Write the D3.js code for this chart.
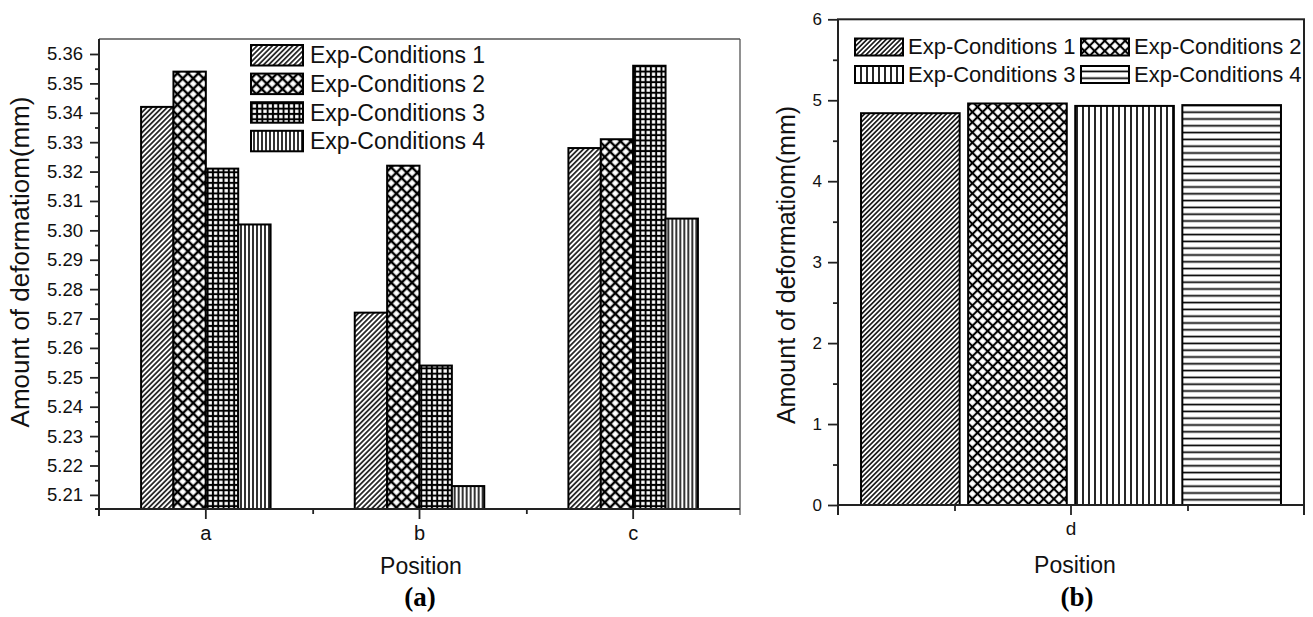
<!DOCTYPE html>
<html>
<head>
<meta charset="utf-8">
<script src="https://cdn.jsdelivr.net/npm/d3@7"></script>
<style>
  body { margin: 0; background: #fff; }
  svg { display: block; font-family: 'Liberation Sans', Arial, sans-serif; }
</style>
</head>
<body>
<svg id="chart" width="1313" height="617"></svg>
<script>
const conditions = ['Exp-Conditions 1', 'Exp-Conditions 2', 'Exp-Conditions 3', 'Exp-Conditions 4'];

// panel (a)
const positionsA = ['a', 'b', 'c'];
const cond1A = [5.342, 5.272, 5.328];
const cond2A = [5.354, 5.322, 5.331];
const cond3A = [5.321, 5.254, 5.356];
const cond4A = [5.302, 5.213, 5.304];
const yTicksA = [5.21, 5.22, 5.23, 5.24, 5.25, 5.26, 5.27, 5.28, 5.29, 5.30, 5.31, 5.32, 5.33, 5.34, 5.35, 5.36];

// panel (b)
const positionsB = ['d'];
const valuesB = [4.84, 4.96, 4.93, 4.94];
const yTicksB = [0, 1, 2, 3, 4, 5, 6];

const svg = d3.select('#chart');
const defs = svg.append('defs');

// hatch patterns, lines drawn in a tile then rotated
function hatch(id, size, width, angle, dirs) {
  const p = defs.append('pattern')
    .attr('id', id)
    .attr('patternUnits', 'userSpaceOnUse')
    .attr('width', size)
    .attr('height', size)
    .attr('patternTransform', `rotate(${angle})`);
  p.append('rect').attr('width', size).attr('height', size).attr('fill', '#fff');
  if (dirs.includes('v')) {
    p.append('line')
      .attr('x1', size / 2).attr('x2', size / 2)
      .attr('y1', -1).attr('y2', size + 1)
      .attr('stroke', '#000').attr('stroke-width', width);
  }
  if (dirs.includes('h')) {
    p.append('line')
      .attr('y1', size / 2).attr('y2', size / 2)
      .attr('x1', -1).attr('x2', size + 1)
      .attr('stroke', '#000').attr('stroke-width', width);
  }
}

hatch('a1', 3.6, 1.5, 45, 'v');
hatch('a2', 7.4, 2.4, 45, 'vh');
hatch('a3', 5.3, 2, 0, 'vh');
hatch('a4', 4, 1.6, 0, 'v');
hatch('b1', 3.4, 1.5, 45, 'v');
hatch('b2', 7.2, 2.1, 45, 'vh');
hatch('b3', 6, 1.7, 0, 'v');
hatch('b4', 6.8, 1.7, 0, 'h');

const fillsA = ['url(#a1)', 'url(#a2)', 'url(#a3)', 'url(#a4)'];
const fillsB = ['url(#b1)', 'url(#b2)', 'url(#b3)', 'url(#b4)'];

// ---------- panel (a) ----------
const leftA = 99, rightA = 740, topA = 39, bottomA = 509;

const xA = d3.scaleBand().domain(positionsA).range([leftA, rightA]).paddingInner(0).paddingOuter(0);
const xInnerA = d3.scaleBand().domain(conditions).range([0, xA.bandwidth()]).paddingInner(0).paddingOuter(1.3);
const yA = d3.scaleLinear().domain([5.2052, 5.3651]).range([bottomA, topA]);

const seriesA = [cond1A, cond2A, cond3A, cond4A];
const rowsA = positionsA.map((p, i) => ({ pos: p, vals: seriesA.map((s) => s[i]) }));

const gA = svg.append('g');

gA.selectAll('g.grp')
  .data(rowsA)
  .join('g')
  .attr('class', 'grp')
  .attr('transform', (d) => `translate(${xA(d.pos)},0)`)
  .selectAll('rect')
  .data((d) => d.vals.map((v, k) => ({ v, k })))
  .join('rect')
  .attr('x', (d) => xInnerA(conditions[d.k]))
  .attr('width', xInnerA.bandwidth())
  .attr('y', (d) => yA(d.v))
  .attr('height', (d) => bottomA - yA(d.v))
  .attr('fill', (d) => fillsA[d.k])
  .attr('stroke', '#000')
  .attr('stroke-width', 2);

// frame
gA.append('line').attr('x1', leftA).attr('x2', rightA).attr('y1', topA).attr('y2', topA)
  .attr('stroke', '#555').attr('stroke-width', 1.3);
gA.append('line').attr('x1', rightA).attr('x2', rightA).attr('y1', topA).attr('y2', bottomA + 6)
  .attr('stroke', '#555').attr('stroke-width', 1.3);

// y axis
const yAxisA = gA.append('g')
  .attr('transform', `translate(${leftA},0)`)
  .call(d3.axisLeft(yA).tickValues(yTicksA).tickFormat(d3.format('.2f')).tickSize(9).tickPadding(7));
gA.append('g')
  .attr('transform', `translate(${leftA},0)`)
  .call(d3.axisLeft(yA).tickValues(yTicksA.map((d) => d + 0.005).filter((d) => d < 5.36)).tickFormat('').tickSize(4));

// x axis
const xAxisA = gA.append('g')
  .attr('transform', `translate(0,${bottomA})`)
  .call(d3.axisBottom(xA).tickSize(10).tickPadding(7));
gA.append('g')
  .attr('transform', `translate(0,${bottomA})`)
  .call(d3.axisBottom(d3.scaleLinear().domain([0, 3]).range([leftA, rightA])).tickValues([1, 2]).tickFormat('').tickSize(5));

gA.selectAll('.domain').remove();
gA.append('line').attr('x1', leftA).attr('x2', leftA).attr('y1', topA).attr('y2', bottomA + 7)
  .attr('stroke', '#222').attr('stroke-width', 2);
gA.append('line').attr('x1', leftA - 4).attr('x2', rightA).attr('y1', bottomA).attr('y2', bottomA)
  .attr('stroke', '#222').attr('stroke-width', 2);

gA.selectAll('.tick line').attr('stroke', '#222').attr('stroke-width', 1.8);
gA.selectAll('.tick text').attr('fill', '#111');
yAxisA.attr('font-family', null).attr('font-size', 18.5);
xAxisA.attr('font-family', null);
xAxisA.selectAll('.tick text').attr('font-size', 20);

// legend (a)
const legA = gA.append('g');
conditions.forEach((c, i) => {
  const y0 = 45 + 28.6 * i;
  legA.append('rect').attr('x', 251).attr('y', y0).attr('width', 52).attr('height', 20.5)
    .attr('fill', fillsA[i]).attr('stroke', '#000').attr('stroke-width', 2);
  legA.append('text').attr('x', 310).attr('y', y0 + 18.3).attr('font-size', 23).attr('fill', '#111').text(c);
});

// titles (a)
gA.append('text')
  .attr('transform', 'translate(29,262) rotate(-90)')
  .attr('text-anchor', 'middle').attr('font-size', 26).attr('fill', '#111')
  .text('Amount of deformatiom(mm)');
gA.append('text').attr('x', 421).attr('y', 574).attr('text-anchor', 'middle')
  .attr('font-size', 23).attr('fill', '#111').text('Position');
gA.append('text').attr('x', 420).attr('y', 606).attr('text-anchor', 'middle')
  .attr('font-size', 27).attr('font-weight', 'bold').attr('font-family', 'Liberation Serif, Times New Roman, serif')
  .text('(a)');

// ---------- panel (b) ----------
const leftB = 838, rightB = 1304, topB = 19.3, bottomB = 505;

const xB = d3.scaleBand().domain(positionsB).range([leftB, rightB]);
const xInnerB = d3.scaleBand().domain(conditions).range([leftB, rightB]).paddingInner(0.079).paddingOuter(0.215);
const yB = d3.scaleLinear().domain([0, 6]).range([bottomB, topB]);

const gB = svg.append('g');

gB.selectAll('rect.bar')
  .data(valuesB)
  .join('rect')
  .attr('class', 'bar')
  .attr('x', (d, i) => xInnerB(conditions[i]))
  .attr('width', xInnerB.bandwidth())
  .attr('y', (d) => yB(d))
  .attr('height', (d) => bottomB - yB(d))
  .attr('fill', (d, i) => fillsB[i])
  .attr('stroke', '#000')
  .attr('stroke-width', 2);

const yAxisB = gB.append('g')
  .attr('transform', `translate(${leftB},0)`)
  .call(d3.axisLeft(yB).tickValues(yTicksB).tickFormat(d3.format('d')).tickSize(10).tickPadding(6));
gB.append('g')
  .attr('transform', `translate(${leftB},0)`)
  .call(d3.axisLeft(yB).tickValues(yTicksB.slice(0, -1).map((d) => d + 0.5)).tickFormat('').tickSize(5));

const xAxisB = gB.append('g')
  .attr('transform', `translate(0,${bottomB})`)
  .call(d3.axisBottom(xB).tickSize(10).tickPadding(7));
gB.append('g')
  .attr('transform', `translate(0,${bottomB})`)
  .call(d3.axisBottom(d3.scaleLinear().domain([0, 4]).range([leftB, rightB])).tickValues([1, 3]).tickFormat('').tickSize(6));

gB.selectAll('.domain').remove();
gB.append('rect').attr('x', leftB).attr('y', topB).attr('width', rightB - leftB).attr('height', bottomB - topB)
  .attr('fill', 'none').attr('stroke', '#222').attr('stroke-width', 2);
gB.append('line').attr('x1', leftB).attr('x2', leftB).attr('y1', bottomB).attr('y2', bottomB + 10)
  .attr('stroke', '#222').attr('stroke-width', 2);
gB.append('line').attr('x1', rightB).attr('x2', rightB).attr('y1', bottomB).attr('y2', bottomB + 10)
  .attr('stroke', '#222').attr('stroke-width', 2);

gB.selectAll('.tick line').attr('stroke', '#222').attr('stroke-width', 1.8);
gB.selectAll('.tick text').attr('fill', '#111');
yAxisB.attr('font-family', null).attr('font-size', 17);
xAxisB.attr('font-family', null);
xAxisB.selectAll('.tick text').attr('font-size', 19);

// legend (b), 2 x 2
const legB = gB.append('g');
const colX = [855, 1081];
const rowY = [38.5, 66];
conditions.forEach((c, i) => {
  const cx = colX[i % 2];
  const cy = rowY[Math.floor(i / 2)];
  legB.append('rect').attr('x', cx).attr('y', cy).attr('width', 48).attr('height', 17)
    .attr('fill', fillsB[i]).attr('stroke', '#000').attr('stroke-width', 2);
  legB.append('text').attr('x', cx + 53).attr('y', cy + 15.5).attr('font-size', 22).attr('fill', '#111').text(c);
});

gB.append('text')
  .attr('transform', 'translate(795,265) rotate(-90)')
  .attr('text-anchor', 'middle').attr('font-size', 25).attr('fill', '#111')
  .text('Amount of deformatiom(mm)');
gB.append('text').attr('x', 1075).attr('y', 573).attr('text-anchor', 'middle')
  .attr('font-size', 23).attr('fill', '#111').text('Position');
gB.append('text').attr('x', 1077).attr('y', 606).attr('text-anchor', 'middle')
  .attr('font-size', 27).attr('font-weight', 'bold').attr('font-family', 'Liberation Serif, Times New Roman, serif')
  .text('(b)');
</script>
</body>
</html>
